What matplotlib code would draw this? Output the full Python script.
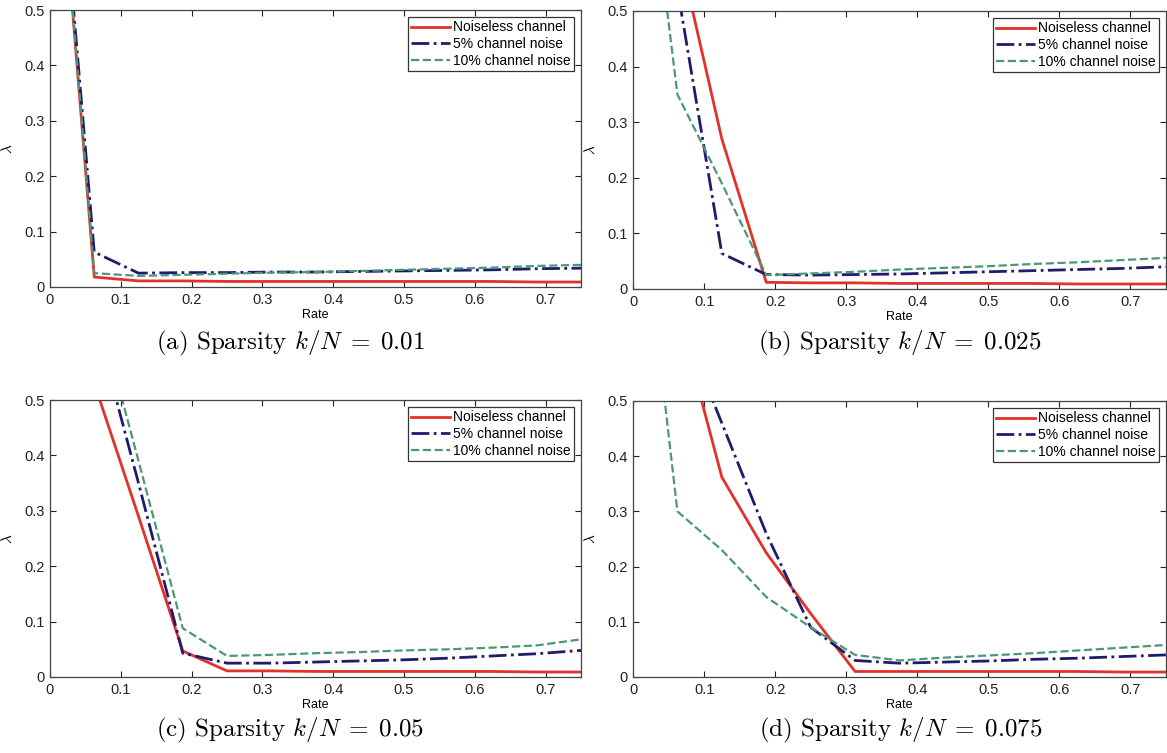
import matplotlib
matplotlib.use("Agg")
import matplotlib.pyplot as plt
from matplotlib.ticker import FuncFormatter

plt.rcParams['font.family'] = ['Liberation Sans', 'DejaVu Sans']
plt.rcParams['mathtext.fontset'] = 'cm'

# rate grid (steps of 1/16)
rate = [0, 0.0625, 0.125, 0.1875, 0.25, 0.3125, 0.375, 0.4375, 0.5, 0.5625, 0.625, 0.6875, 0.75]

# (a) k/N = 0.01
a_noiseless = [1.0, 0.018, 0.011, 0.011, 0.010, 0.010, 0.010, 0.010, 0.010, 0.010, 0.010, 0.009, 0.009]
a_noise5 = [1.0, 0.063, 0.025, 0.026, 0.026, 0.027, 0.027, 0.028, 0.029, 0.030, 0.031, 0.033, 0.034]
a_noise10 = [1.0, 0.025, 0.020, 0.022, 0.024, 0.026, 0.027, 0.029, 0.031, 0.033, 0.035, 0.038, 0.040]

# (b) k/N = 0.025
b_noiseless = [1.0, 0.62, 0.27, 0.012, 0.011, 0.011, 0.010, 0.010, 0.010, 0.010, 0.009, 0.009, 0.009]
b_noise5 = [1.0, 0.54, 0.064, 0.026, 0.025, 0.026, 0.027, 0.029, 0.031, 0.033, 0.035, 0.037, 0.040]
b_noise10 = [1.0, 0.35, 0.19, 0.025, 0.028, 0.031, 0.035, 0.038, 0.041, 0.045, 0.048, 0.052, 0.056]

# (c) k/N = 0.05
c_noiseless = [1.0, 0.53, 0.29, 0.047, 0.011, 0.011, 0.010, 0.010, 0.010, 0.010, 0.010, 0.009, 0.009]
c_noise5 = [1.0, 0.65, 0.35, 0.043, 0.025, 0.025, 0.027, 0.029, 0.031, 0.034, 0.038, 0.042, 0.048]
c_noise10 = [1.0, 0.69, 0.39, 0.088, 0.038, 0.040, 0.043, 0.045, 0.048, 0.050, 0.053, 0.057, 0.068]

# (d) k/N = 0.075
d_noiseless = [1.0, 0.666, 0.362, 0.225, 0.115, 0.010, 0.010, 0.010, 0.010, 0.010, 0.010, 0.009, 0.009]
d_noise5 = [1.0, 0.66, 0.46, 0.26, 0.09, 0.03, 0.025, 0.027, 0.029, 0.032, 0.034, 0.037, 0.040]
d_noise10 = [1.0, 0.30, 0.23, 0.145, 0.09, 0.04, 0.03, 0.035, 0.039, 0.043, 0.048, 0.053, 0.058]

labels = ['Noiseless channel', '5% channel noise', '10% channel noise']
captions = [r'(a) Sparsity $k/N\;=\;0.01$', r'(b) Sparsity $k/N\;=\;0.025$',
            r'(c) Sparsity $k/N\;=\;0.05$', r'(d) Sparsity $k/N\;=\;0.075$']

panels = [
    (a_noiseless, a_noise5, a_noise10),
    (b_noiseless, b_noise5, b_noise10),
    (c_noiseless, c_noise5, c_noise10),
    (d_noiseless, d_noise5, d_noise10),
]

W, H = 1167, 753
# axes boxes in pixels: left, top, right, bottom
boxes = [(50, 10, 581, 287), (633, 11, 1166, 289),
         (50, 400, 581, 677), (633, 401, 1166, 677)]
cap_pos = [(290, 343), (900, 343), (290, 730), (901, 730)]

fig = plt.figure(figsize=(W / 100, H / 100), dpi=100)

for (l, t, r, b), data, cap, (cx, cy) in zip(boxes, panels, captions, cap_pos):
    ax = fig.add_axes([l / W, 1 - b / H, (r - l) / W, (b - t) / H])
    ax.plot(rate, data[0], '-', color='#e2312b', lw=2.0, label=labels[0])
    ax.plot(rate, data[1], '-.', color='#1f1c6b', lw=2.0, label=labels[1])
    ax.plot(rate, data[2], '--', color='#4b9878', lw=1.6, label=labels[2])
    ax.set_xlim(0, 0.75)
    ax.set_ylim(0, 0.5)
    ax.set_xticks([0, 0.1, 0.2, 0.3, 0.4, 0.5, 0.6, 0.7])
    ax.set_yticks([0, 0.1, 0.2, 0.3, 0.4, 0.5])
    fmt = FuncFormatter(lambda v, p: '%g' % round(v, 3))
    ax.xaxis.set_major_formatter(fmt)
    ax.yaxis.set_major_formatter(fmt)
    ax.tick_params(direction='in', top=True, right=True, length=4, width=0.8,
                   labelsize=10.5, pad=4, colors='#222222')
    for s in ax.spines.values():
        s.set_color('#444444')
        s.set_linewidth(0.9)
    ax.set_xlabel('Rate', fontsize=9, labelpad=2)
    ax.set_ylabel(r'$\lambda$', fontsize=11, labelpad=7)
    leg = ax.legend(loc='upper right', fontsize=10, fancybox=False, framealpha=1,
                    edgecolor='#333333', borderpad=0.25, labelspacing=0.2,
                    handlelength=2.8, handletextpad=0.2, borderaxespad=0.5)
    leg.get_frame().set_linewidth(0.9)
    fig.text(cx / W, 1 - cy / H, cap, ha='center', va='center', fontsize=18,
             family='cmr10')

fig.savefig('out.png', dpi=100)
